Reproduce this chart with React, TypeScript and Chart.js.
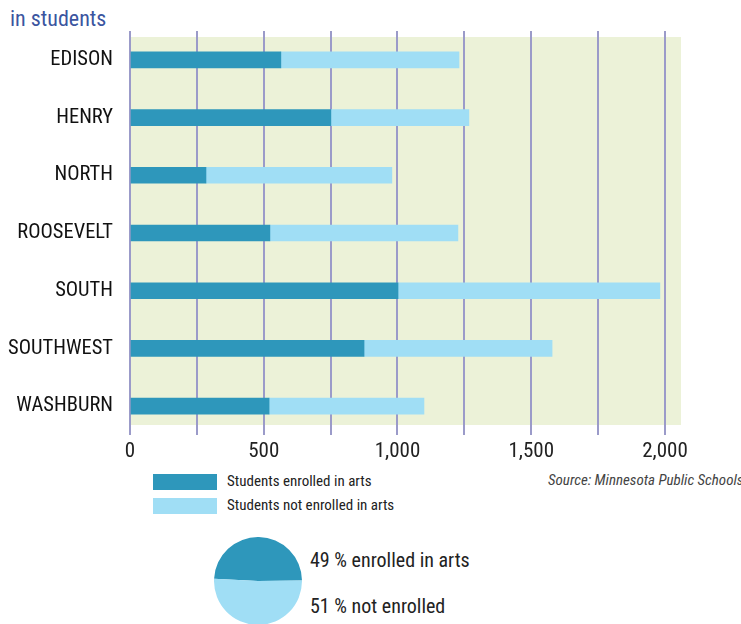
import React, { useEffect, useRef } from "react";
import { Chart, registerables } from "chart.js";

Chart.register(...registerables);

const schools = ["EDISON", "HENRY", "NORTH", "ROOSEVELT", "SOUTH", "SOUTHWEST", "WASHBURN"];
const enrolled = [564, 751, 284, 523, 1002, 875, 520];
const notEnrolled = [666, 516, 695, 703, 979, 703, 579];
const tickValues = [0, 250, 500, 750, 1000, 1250, 1500, 1750, 2000];
const labeledTicks = [0, 500, 1000, 1500, 2000];
const pieShares = [49, 51];
const pieLabels = ["49 % enrolled in arts", "51 % not enrolled"];
const legendLabels = ["Students enrolled in arts", "Students not enrolled in arts"];

const DARK = "#2e97bb";
const LIGHT = "#a0def5";
const BG = "#ecf2d8";
const GRID = "#9b9bc9";
const FONT = '"Liberation Sans Narrow", "Roboto Condensed", "Arial Narrow", Roboto, sans-serif';

const bgPlugin = {
  id: "plotBg",
  beforeDraw(chart: any) {
    const { ctx, chartArea } = chart;
    ctx.save();
    ctx.fillStyle = BG;
    ctx.fillRect(chartArea.left - 1, chartArea.top + 6, chartArea.width + 1, chartArea.height - 16);
    ctx.restore();
  },
};

export default function App() {
  const barRef = useRef<HTMLCanvasElement>(null);
  const pieRef = useRef<HTMLCanvasElement>(null);

  useEffect(() => {
    const bar = new Chart(barRef.current!, {
      type: "bar",
      data: {
        labels: schools,
        datasets: [
          { label: legendLabels[0], data: enrolled, backgroundColor: DARK, barThickness: 16 },
          { label: legendLabels[1], data: notEnrolled, backgroundColor: LIGHT, barThickness: 16 },
        ],
      },
      options: {
        indexAxis: "y",
        responsive: false,
        animation: false,
        events: [],
        layout: { padding: { top: 31, right: 60, bottom: 0, left: 0 } },
        plugins: { legend: { display: false }, tooltip: { enabled: false } },
        scales: {
          x: {
            stacked: true,
            min: 0,
            max: 2060,
            afterBuildTicks: (scale: any) => {
              scale.ticks = tickValues.map((v) => ({ value: v }));
            },
            afterFit: (scale: any) => {
              scale.height = 35;
            },
            grid: { color: GRID, lineWidth: 2, drawTicks: false },
            border: { display: false },
            ticks: {
              padding: 4,
              maxRotation: 0,
              autoSkip: false,
              color: "#222",
              font: { family: FONT, size: 21 },
              callback: (v: any) => (labeledTicks.includes(Number(v)) ? Number(v).toLocaleString("en-US") : ""),
            },
          },
          y: {
            stacked: true,
            afterFit: (scale: any) => {
              scale.width = 130;
            },
            grid: { display: false, drawTicks: false },
            border: { display: false },
            ticks: { padding: 17, color: "#111", font: { family: FONT, size: 20.5 } },
          },
        },
      },
      plugins: [bgPlugin],
    });

    const pie = new Chart(pieRef.current!, {
      type: "pie",
      data: {
        labels: pieLabels,
        datasets: [{ data: pieShares, backgroundColor: [DARK, LIGHT], borderWidth: 0 }],
      },
      options: {
        responsive: false,
        animation: false,
        events: [],
        rotation: 273,
        layout: { padding: 0 },
        plugins: { legend: { display: false }, tooltip: { enabled: false } },
      },
    });

    return () => {
      bar.destroy();
      pie.destroy();
    };
  }, []);

  const txt = (extra: React.CSSProperties): React.CSSProperties => ({
    position: "absolute",
    fontFamily: FONT,
    lineHeight: 1,
    whiteSpace: "nowrap",
    color: "#222",
    ...extra,
  });

  return (
    <div style={{ position: "absolute", left: 0, top: 0, width: 741, height: 624, overflow: "hidden", background: "#fff" }}>
      <div style={txt({ left: 10, top: 8, fontSize: 22, color: "#3b55a0" })}>in students</div>
      <canvas ref={barRef} width={741} height={470} style={{ position: "absolute", left: 0, top: 0, display: "block" }} />
      <div style={{ position: "absolute", left: 153, top: 474, width: 64, height: 16, background: DARK }} />
      <div style={{ position: "absolute", left: 153, top: 498, width: 64, height: 16, background: LIGHT }} />
      <div style={txt({ left: 227, top: 474, fontSize: 15 })}>{legendLabels[0]}</div>
      <div style={txt({ left: 227, top: 498, fontSize: 15 })}>{legendLabels[1]}</div>
      <div style={txt({ left: 548, top: 473, fontSize: 15, fontStyle: "italic", color: "#444" })}>
        Source: Minnesota Public Schools
      </div>
      <canvas ref={pieRef} width={88} height={88} style={{ position: "absolute", left: 214, top: 537, display: "block" }} />
      <div style={txt({ left: 310, top: 550, fontSize: 20 })}>{pieLabels[0]}</div>
      <div style={txt({ left: 310, top: 596, fontSize: 20 })}>{pieLabels[1]}</div>
    </div>
  );
}
